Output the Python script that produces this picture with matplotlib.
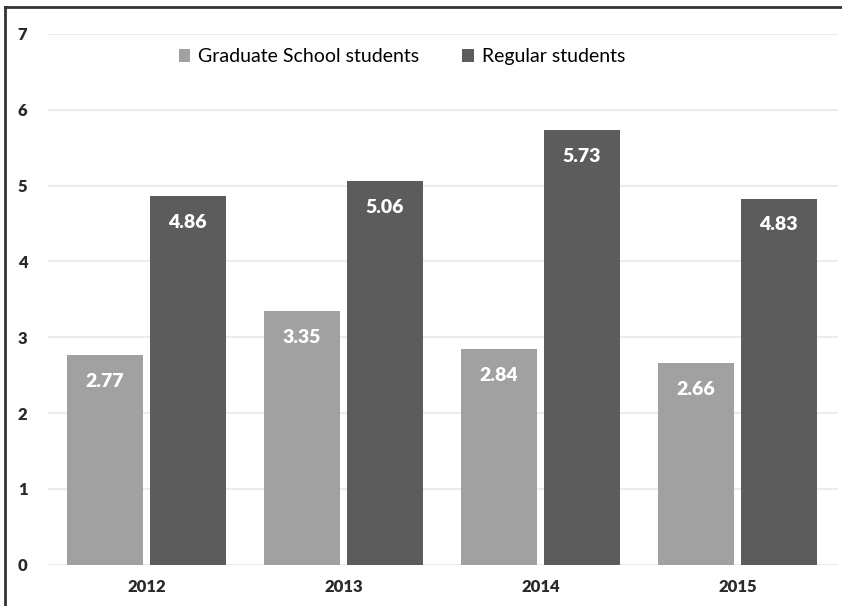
import matplotlib.pyplot as plt
import numpy as np

years = ['2012', '2013', '2014', '2015']
graduate = [2.77, 3.35, 2.84, 2.66]
regular = [4.86, 5.06, 5.73, 4.83]
series_names = ['Graduate School students', 'Regular students']

light = '#a1a1a1'
dark = '#5c5c5c'
plt.rcParams['font.family'] = ['Lato', 'DejaVu Sans']

fig = plt.figure(figsize=(8.42, 6.06), dpi=100)
ax = fig.add_axes([0.057, 0.068, 0.938, 0.876])

x = np.arange(len(years))
w = 0.385
off = 0.21
b1 = ax.bar(x - off, graduate, w, color=light, label=series_names[0], zorder=2)
b2 = ax.bar(x + off, regular, w, color=dark, label=series_names[1], zorder=2)

# value labels inside the top of each bar
for bars in (b1, b2):
    for r in bars:
        ax.annotate(f'{r.get_height():.2f}', (r.get_x() + r.get_width() / 2, r.get_height()),
                    xytext=(0, -19), textcoords='offset points', ha='center', va='center',
                    color='white', fontsize=14, fontweight='heavy')

ax.set_xlim(-0.5, 3.51)
ax.set_ylim(0, 7)
ax.set_yticks(range(8))
ax.set_xticks(x)
ax.set_xticklabels(years)
ax.grid(axis='y', color='#ececec', linewidth=1.5, zorder=0)
for s in ax.spines.values():
    s.set_visible(False)
ax.tick_params(length=0)
ax.tick_params(axis='x', pad=10)
for lab in ax.get_xticklabels() + ax.get_yticklabels():
    lab.set_fontweight('heavy')
    lab.set_fontsize(12)
    lab.set_color('#2a2a2a')
for lab in ax.get_yticklabels():
    lab.set_horizontalalignment('left')
    lab.set_x(-0.032)

ax.legend(loc='center', bbox_to_anchor=(0.448, 0.957), ncol=2, frameon=False,
          fontsize=14, handlelength=0.6, handleheight=0.6, handletextpad=0.4,
          columnspacing=2.2)

# partial frame (top and left edges) from the original image
fig.add_artist(plt.Line2D([0.006, 1], [0.989, 0.989], color='#333333', lw=2))
fig.add_artist(plt.Line2D([0.006, 0.006], [0, 0.989], color='#333333', lw=2))

fig.savefig('out.png', dpi=100)
